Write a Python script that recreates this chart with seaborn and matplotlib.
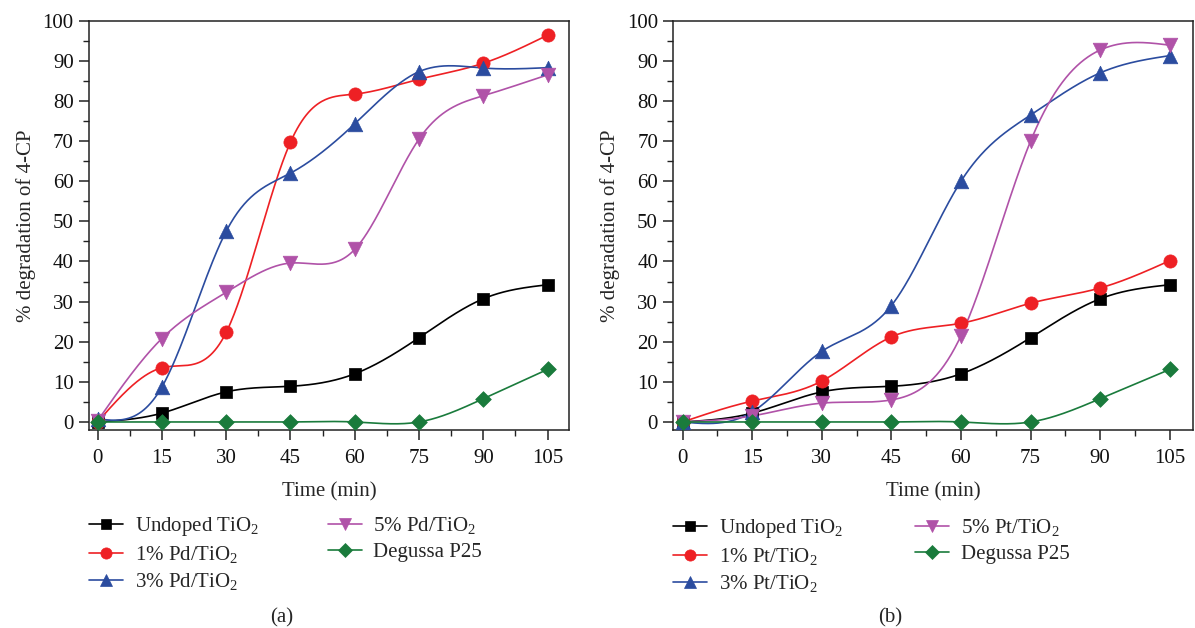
import numpy as np
import pandas as pd
import matplotlib
matplotlib.use("Agg")
import matplotlib.pyplot as plt
from matplotlib.lines import Line2D
import seaborn as sns

# ---------------- data ----------------
time_min = [0, 15, 30, 45, 60, 75, 90, 105]

undoped = [0.0, 2.2, 7.5, 8.9, 12.0, 21.0, 30.7, 34.2]
degussa = [0.0, 0.0, 0.0, 0.0, 0.0, 0.0, 5.8, 13.1]

pd1 = [0.0, 13.5, 22.3, 69.7, 81.7, 85.4, 89.4, 96.4]
pd3 = [0.8, 8.7, 47.5, 62.0, 74.3, 87.3, 88.2, 88.3]
pd5 = [0.3, 20.8, 32.3, 39.6, 43.0, 70.5, 81.3, 86.5]

pt1 = [0.0, 5.2, 10.2, 21.2, 24.6, 29.6, 33.4, 40.2]
pt3 = [0.0, 2.5, 17.6, 29.0, 60.0, 76.5, 87.0, 91.3]
pt5 = [0.0, 1.5, 4.7, 5.5, 21.5, 70.0, 92.7, 93.9]

labels_a = ["Undoped TiO$_\\mathregular{2}$", "1% Pd/TiO$_\\mathregular{2}$",
            "3% Pd/TiO$_\\mathregular{2}$", "5% Pd/TiO$_\\mathregular{2}$", "Degussa P25"]
labels_b = ["Undoped TiO$_\\mathregular{2}$", "1% Pt/TiO$_\\mathregular{2}$",
            "3% Pt/TiO$_\\mathregular{2}$", "5% Pt/TiO$_\\mathregular{2}$", "Degussa P25"]

x_ticks = [0, 15, 30, 45, 60, 75, 90, 105]
y_ticks = [0, 10, 20, 30, 40, 50, 60, 70, 80, 90, 100]

colors = ["#000000", "#ee2024", "#2b4c9f", "#b052a8", "#1a7b3c"]
markers = ["s", "o", "^", "v", "D"]
msizes = [8.5, 9.5, 10.5, 10.5, 8.0]

# ---------------- style ----------------
sns.set_theme(style="ticks")
plt.rcParams["font.family"] = ["Liberation Serif", "DejaVu Serif"]
plt.rcParams["mathtext.fontset"] = "custom"
plt.rcParams["mathtext.rm"] = "Liberation Serif"
plt.rcParams["mathtext.it"] = "Liberation Serif:italic"
FS = 15


def natural_spline(x, y, n=400):
    x = np.asarray(x, float)
    y = np.asarray(y, float)
    m = len(x)
    h = np.diff(x)
    A = np.zeros((m, m))
    b = np.zeros(m)
    A[0, 0] = 1
    A[-1, -1] = 1
    for i in range(1, m - 1):
        A[i, i - 1] = h[i - 1]
        A[i, i] = 2 * (h[i - 1] + h[i])
        A[i, i + 1] = h[i]
        b[i] = 3 * ((y[i + 1] - y[i]) / h[i] - (y[i] - y[i - 1]) / h[i - 1])
    c = np.linalg.solve(A, b)
    bb = (y[1:] - y[:-1]) / h - h * (2 * c[:-1] + c[1:]) / 3
    d = (c[1:] - c[:-1]) / (3 * h)
    xs = np.linspace(x[0], x[-1], n)
    idx = np.clip(np.searchsorted(x, xs, side="right") - 1, 0, m - 2)
    dx = xs - x[idx]
    ys = y[idx] + bb[idx] * dx + c[idx] * dx ** 2 + d[idx] * dx ** 3
    return xs, ys


fig = plt.figure(figsize=(11.95, 6.28), dpi=100)
ax_a = fig.add_axes([89 / 1195, 1 - 430 / 628, 480 / 1195, 409.3 / 628])
ax_b = fig.add_axes([673.3 / 1195, 1 - 430 / 628, 519.7 / 1195, 409.3 / 628])


def draw(ax, series):
    for k, vals in enumerate(series):
        xs, ys = natural_spline(time_min, vals)
        sns.lineplot(x=xs, y=ys, color=colors[k], lw=1.2, ax=ax,
                     estimator=None, sort=False, zorder=2)
    for k, vals in enumerate(series):
        df = pd.DataFrame({"t": time_min, "v": vals})
        sns.scatterplot(data=df, x="t", y="v", marker=markers[k],
                        s=msizes[k] ** 2, color=colors[k], edgecolor=colors[k],
                        linewidth=0.5, ax=ax, zorder=3, legend=False)
    ax.set_xlim(-2, 110)
    ax.set_ylim(-2, 100)
    ax.set_xticks(x_ticks)
    ax.set_yticks(y_ticks)
    ax.set_xticks([7.5 + 15 * i for i in range(7)], minor=True)
    ax.set_yticks([5 + 10 * i for i in range(10)], minor=True)
    ax.tick_params(axis="both", which="major", direction="out", length=7,
                   width=1.1, labelsize=FS, colors="#222222", labelcolor="#111111",
                   pad=4)
    ax.tick_params(axis="x", which="major", pad=7)
    ax.tick_params(axis="both", which="minor", direction="out", length=4,
                   width=1.0, colors="#222222")
    ax.tick_params(top=False, right=False, which="both")
    for s in ax.spines.values():
        s.set_visible(True)
        s.set_linewidth(1.1)
        s.set_color("#222222")
    ax.set_xlabel("Time (min)", fontsize=FS, labelpad=10)
    ax.set_ylabel("% degradation of 4-CP", fontsize=FS, labelpad=5)


draw(ax_a, [undoped, pd1, pd3, pd5, degussa])
draw(ax_b, [undoped, pt1, pt3, pt5, degussa])


def handles():
    return [Line2D([0], [0], color=colors[k], lw=1.2, marker=markers[k],
                   markersize=msizes[k] * 0.85, markeredgewidth=0.5)
            for k in range(5)]


order = [0, 1, 2, 3, 4]
leg_kw = dict(ncol=2, frameon=False, fontsize=FS, handlelength=1.65,
              handletextpad=0.55, labelspacing=0.3, borderaxespad=0,
              borderpad=0, loc="upper left")
h = handles()
la = fig.legend([h[i] for i in order], [labels_a[i] for i in order],
                bbox_to_anchor=(89 / 1195, 1 - 515 / 628), columnspacing=3.3, **leg_kw)
lb = fig.legend([h[i] for i in order], [labels_b[i] for i in order],
                bbox_to_anchor=(673 / 1195, 1 - 517 / 628), columnspacing=3.45, **leg_kw)

fig.text(282 / 1195, 1 - 618 / 628, "(a)", ha="center", va="center", fontsize=FS)
fig.text(890 / 1195, 1 - 618 / 628, "(b)", ha="center", va="center", fontsize=FS)

fig.savefig("out.png", dpi=100)
